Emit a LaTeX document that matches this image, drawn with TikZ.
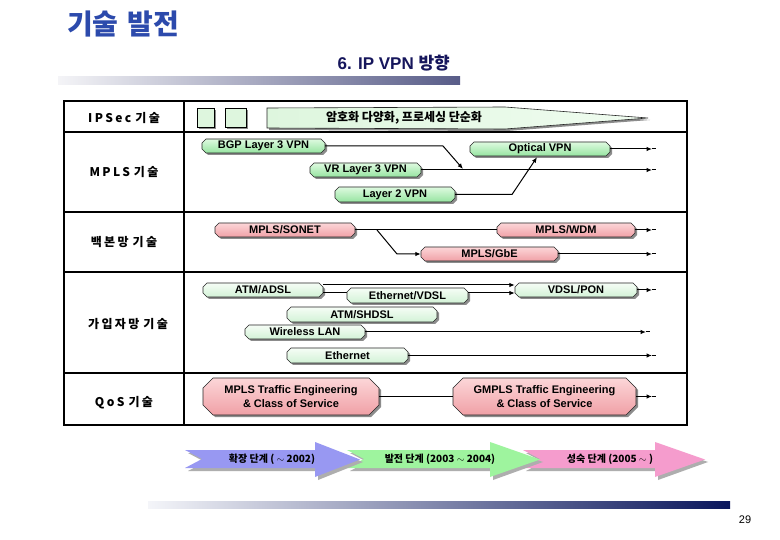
\documentclass[tikz,border=0pt]{standalone}
\usepackage{fontspec}
\setmainfont{Liberation Sans}
\newfontfamily\kr{Noto Sans CJK KR}
\newfontfamily\krsp[LetterSpace=20]{Noto Sans CJK KR}
\usetikzlibrary{arrows.meta,calc}
\definecolor{shadowc}{RGB}{140,140,140}
\definecolor{titleblue}{RGB}{44,74,172}
\definecolor{navy}{RGB}{22,22,92}
\definecolor{gtop}{RGB}{222,250,224}
\definecolor{gbot}{RGB}{150,228,160}
\definecolor{ltop}{RGB}{246,253,246}
\definecolor{lbot}{RGB}{210,242,214}
\definecolor{ptop}{RGB}{252,214,216}
\definecolor{pbot}{RGB}{240,160,166}
\definecolor{phblue}{RGB}{152,152,242}
\definecolor{phgreen}{RGB}{158,244,158}
\definecolor{phpink}{RGB}{245,156,205}
\definecolor{ipfill}{RGB}{222,246,222}
% chamfered label box: style, name, x1, y1, x2, y2, chamfer, text
\newcommand\tagbox[8]{%
  \fill[shadowc] (#3+#7+2,#4+2) -- (#5-#7+2,#4+2) -- (#5+2,#4+#7+2) -- (#5+2,#6-#7+2)
     -- (#5-#7+2,#6+2) -- (#3+#7+2,#6+2) -- (#3+2,#6-#7+2) -- (#3+2,#4+#7+2) -- cycle;
  \path[#1,draw=black!85,line width=0.6pt] (#3+#7,#4) -- (#5-#7,#4) -- (#5,#4+#7) -- (#5,#6-#7)
     -- (#5-#7,#6) -- (#3+#7,#6) -- (#3,#6-#7) -- (#3,#4+#7) -- cycle;
  \node[boxtext,inner sep=0pt,align=center,minimum width={(#5-#3)*1pt},minimum height={(#6-#4)*1pt}] (#2) at ({(#3+#5)/2},{(#4+#6)/2}) {#8};
}
% phase arrow: colour, tail x, head x, tip x, name, text x, text
\newcommand\phase[7]{%
  \fill[shadowc!70] (#2+3,453) -- (#3+3,453) -- (#3+3,445) -- (#4+3,462) -- (#3+3,480) -- (#3+3,471) -- (#2+3,471) -- (#2+20,462) -- cycle;
  \fill[#1] (#2,450) -- (#3,450) -- (#3,442) -- (#4,459.5) -- (#3,477) -- (#3,468) -- (#2,468) -- (#2+17,459) -- cycle;
  \node[phasetext] (#5) at (#6,459) {#7};
}
\begin{document}
\begin{tikzpicture}[x=1pt,y=-1pt,
  arr/.style={line width=1pt,-{Latex[length=5.5pt,width=4.5pt]}},
  conn/.style={line width=1pt},
  boxtext/.style={font=\bfseries\fontsize{11}{14}\selectfont},
  rowlabel/.style={font=\krsp\bfseries\fontsize{12}{14}\selectfont},
  phasetext/.style={font=\kr\bfseries\fontsize{10}{12}\selectfont},
  ]
\useasboundingbox (0,0) rectangle (780,540);
\fill[white] (0,0) rectangle (780,540);

% title
\node[anchor=west,inner sep=0pt,font=\kr\bfseries\fontsize{28}{32}\selectfont,text=titleblue] (title) at (67,24.5) {기술\hspace{9pt}발전};
\node[anchor=east,inner sep=0pt,font=\bfseries\fontsize{17}{20}\selectfont,text=navy] (sub) at (450,63) {6. IP VPN {\kr 방향}};
\shade[left color={rgb,255:red,244;green,244;blue,247},middle color={rgb,255:red,208;green,209;blue,220},right color={rgb,255:red,88;green,92;blue,136}] (58,77) rectangle (460,85);

% table
\draw[line width=1.4pt] (184,101) -- (184,425);
\foreach \yy in {132,212,272,373} \draw[line width=1.4pt] (64,\yy) -- (687,\yy);
\draw[line width=2.6pt] (64,101) rectangle (687,425);

% row labels
\node[rowlabel] (l1) at (124,118) {IPSec\hspace{4pt}기술};
\node[rowlabel] (l2) at (124,172) {MPLS\hspace{4pt}기술};
\node[rowlabel] (l3) at (124,242) {백본망\hspace{4pt}기술};
\node[rowlabel] (l4) at (128,324) {가입자망\hspace{4pt}기술};
\node[rowlabel] (l5) at (124,403) {QoS\hspace{4pt}기술};

% IPSec row
\fill[shadowc] (199,110) rectangle (216,129);
\fill[shadowc] (227,110) rectangle (248,129);
\draw[fill=ipfill,line width=0.6pt] (197,108) rectangle (214,127);
\draw[fill=ipfill,line width=0.6pt] (225,108) rectangle (246,127);
\fill[shadowc] (269,110) -- (507,109) -- (650,120) -- (507,131) -- (269,130) -- cycle;
\shade[left color=ipfill,right color={rgb,255:red,240;green,252;blue,240},draw=black!85,line width=0.6pt] (267,108) -- (505,107) -- (648,118) -- (505,129) -- (267,128) -- cycle;
\node[font=\kr\bfseries\fontsize{12}{14}\selectfont] (ipsec) at (404,118) {암호화 다양화, 프로세싱 단순화};

% MPLS row
\tagbox{top color=gtop,bottom color=gbot}{bgp}{202}{139}{325}{153}{4}{BGP Layer 3 VPN}
\tagbox{top color=gtop,bottom color=gbot}{vr}{310}{163}{421}{177}{4}{VR Layer 3 VPN}
\tagbox{top color=gtop,bottom color=gbot}{ltwo}{335}{187}{455}{202}{4}{Layer 2 VPN}
\tagbox{top color=gtop,bottom color=gbot}{opt}{470}{142}{610}{156}{4}{Optical VPN}
\coordinate (b1) at (443,146);
\coordinate (b2) at (463,169);
\draw[arr] (bgp.east) -- (b1) -- (b2);
\coordinate (vrE) at (652,170);
\draw[arr] (vr.east) -- (vrE);
\draw[conn] (vrE) -- ++(4,0);
\coordinate (m1) at (512,194.5);
\draw[arr] (ltwo.east) -- (m1) -- ([xshift=-3pt,yshift=-1pt]opt.south);
\coordinate (optE) at (652,149);
\draw[arr] (opt.east) -- (optE);
\draw[conn] (optE) -- ++(4,0);

% backbone row
\tagbox{top color=ptop,bottom color=pbot}{sonet}{215}{223}{355}{237}{4}{MPLS/SONET}
\tagbox{top color=ptop,bottom color=pbot}{wdm}{497}{223}{635}{237}{4}{MPLS/WDM}
\tagbox{top color=ptop,bottom color=pbot}{gbe}{421}{247}{558}{261}{4}{MPLS/GbE}
\draw[conn] (sonet.east) -- (wdm.west);
\coordinate (s1) at (377,230);
\coordinate (s2) at (397,254);
\draw[arr] (s1) -- (s2) -- (gbe.west);
\coordinate (wdmE) at (652,230);
\draw[arr] (wdm.east) -- (wdmE);
\draw[conn] (wdmE) -- ++(4,0);
\coordinate (gbeE) at (652,254);
\draw[arr] (gbe.east) -- (gbeE);
\draw[conn] (gbeE) -- ++(4,0);

% subscriber row
\tagbox{top color=ltop,bottom color=lbot}{adsl}{203}{283}{323}{297}{4}{ATM/ADSL}
\tagbox{top color=ltop,bottom color=lbot}{pon}{515}{283}{637}{297}{4}{VDSL/PON}
\draw[arr] ([yshift=5pt]adsl.east) -- ([yshift=5pt]pon.west);
\coordinate (a2) at (350,293);
\draw[conn] ([yshift=-3pt]adsl.east) -- (a2);
\tagbox{top color=ltop,bottom color=lbot}{evdsl}{347}{288}{468}{303}{4}{Ethernet/VDSL}
\draw[arr] ([yshift=-3pt]pon.west -| evdsl.east) -- ([yshift=-3pt]pon.west);
\tagbox{top color=ltop,bottom color=lbot}{shdsl}{287}{307}{437}{322}{4}{ATM/SHDSL}
\tagbox{top color=ltop,bottom color=lbot}{wlan}{245}{325}{365}{339}{4}{Wireless LAN}
\tagbox{top color=ltop,bottom color=lbot}{eth}{287}{348}{408}{363}{4}{Ethernet}
\coordinate (ponE) at (652,290);
\draw[arr] (pon.east) -- (ponE);
\draw[conn] (ponE) -- ++(4,0);
\coordinate (wlanE) at (646,332);
\draw[arr] (wlan.east) -- (wlanE);
\draw[conn] (wlanE) -- ++(4,0);
\coordinate (ethE) at (652,355.5);
\draw[arr] (eth.east) -- (ethE);
\draw[conn] (ethE) -- ++(4,0);

% QoS row
\tagbox{top color=ptop,bottom color=pbot}{mte}{203}{378}{379}{415}{10}{MPLS Traffic Engineering\\\& Class of Service}
\tagbox{top color=ptop,bottom color=pbot}{gmte}{453}{378}{636}{415}{10}{GMPLS Traffic Engineering\\\& Class of Service}
\draw[conn] (mte.east) -- (gmte.west);
\coordinate (gmE) at (652,396.5);
\draw[arr] (gmte.east) -- (gmE);
\draw[conn] (gmE) -- ++(4,0);

% phases
\phase{phpink}{523}{655}{705}{ph3}{610}{성숙 단계 (2005 $\sim$ )}
\phase{phgreen}{347}{490}{540}{ph2}{440}{발전 단계 (2003 $\sim$ 2004)}
\phase{phblue}{185}{315}{360}{ph1}{272}{확장 단계 ( $\sim$ 2002)}

% bottom bar and page number
\shade[left color={rgb,255:red,244;green,245;blue,249},middle color={rgb,255:red,196;green,198;blue,214},right color={rgb,255:red,10;green,22;blue,92}] (148,501) rectangle (730,508);
\node[font=\fontsize{11}{13}\selectfont] (pg) at (745,520) {29};
\end{tikzpicture}
\end{document}
